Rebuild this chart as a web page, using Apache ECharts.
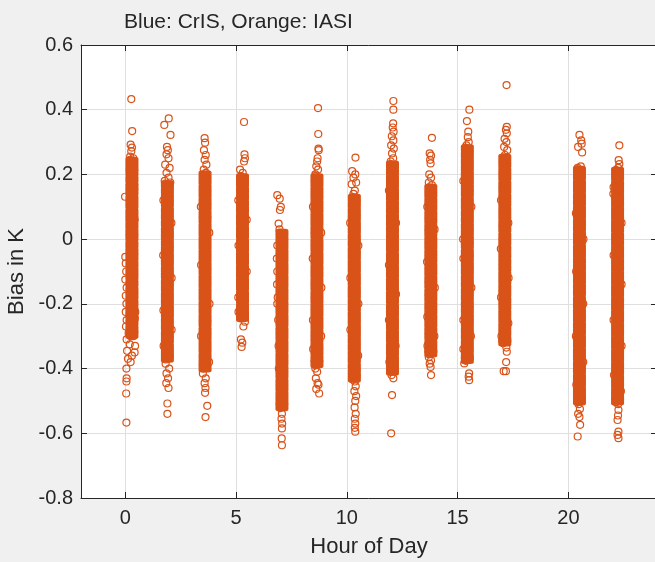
<!DOCTYPE html>
<html>
<head>
<meta charset="utf-8">
<script src="https://cdn.jsdelivr.net/npm/echarts@6/dist/echarts.min.js"></script>
<style>
html,body{margin:0;padding:0;background:#f0f0f0;}
#chart{width:655px;height:562px;}
</style>
</head>
<body>
<div id="chart"></div>
<script>
// centre hour of every overpass cluster
var passHours = [0.30, 1.90, 3.60, 5.29, 7.07, 8.65, 10.34, 12.06, 13.79, 15.44, 17.13, 20.50, 22.22];

// dense (overplotted) part of each cluster, bias in K
var coreBias = [
    [0.241,0.222,0.205,0.184,0.163,0.146,0.124,0.105,0.083,0.064,0.043,0.022,0.004,-0.017,-0.038,-0.056,-0.077,-0.098,-0.116,-0.137,-0.158,-0.176,-0.197,-0.218,-0.236,-0.257,-0.278,-0.295],
    [0.168,0.149,0.128,0.109,0.088,0.069,0.048,0.027,0.008,-0.013,-0.032,-0.053,-0.072,-0.093,-0.112,-0.133,-0.152,-0.173,-0.192,-0.213,-0.232,-0.253,-0.272,-0.293,-0.312,-0.333,-0.352,-0.368],
    [0.198,0.179,0.158,0.139,0.118,0.099,0.078,0.059,0.038,0.019,-0.002,-0.021,-0.042,-0.061,-0.082,-0.101,-0.122,-0.141,-0.162,-0.181,-0.202,-0.221,-0.242,-0.261,-0.282,-0.301,-0.322,-0.341,-0.362,-0.381,-0.398],
    [0.190,0.171,0.150,0.131,0.110,0.091,0.070,0.051,0.030,0.011,-0.010,-0.029,-0.050,-0.069,-0.090,-0.109,-0.130,-0.149,-0.170,-0.189,-0.210,-0.229,-0.242],
    [0.018,-0.002,-0.021,-0.042,-0.061,-0.082,-0.101,-0.122,-0.141,-0.162,-0.181,-0.202,-0.221,-0.242,-0.261,-0.282,-0.301,-0.322,-0.341,-0.362,-0.381,-0.402,-0.421,-0.442,-0.461,-0.482,-0.501,-0.518],
    [0.190,0.171,0.150,0.131,0.110,0.091,0.070,0.051,0.030,0.011,-0.010,-0.029,-0.050,-0.069,-0.090,-0.109,-0.130,-0.149,-0.170,-0.189,-0.210,-0.229,-0.250,-0.269,-0.290,-0.309,-0.330,-0.349,-0.370,-0.385],
    [0.126,0.107,0.086,0.067,0.046,0.027,0.006,-0.013,-0.034,-0.053,-0.074,-0.093,-0.114,-0.133,-0.154,-0.173,-0.194,-0.213,-0.234,-0.253,-0.274,-0.293,-0.314,-0.333,-0.354,-0.373,-0.394,-0.413,-0.430],
    [0.229,0.210,0.189,0.170,0.149,0.130,0.109,0.090,0.069,0.050,0.029,0.010,-0.011,-0.030,-0.051,-0.070,-0.091,-0.110,-0.131,-0.150,-0.171,-0.190,-0.211,-0.230,-0.251,-0.270,-0.291,-0.310,-0.331,-0.350,-0.371,-0.390,-0.408],
    [0.157,0.138,0.117,0.098,0.077,0.058,0.037,0.018,-0.003,-0.022,-0.043,-0.062,-0.083,-0.102,-0.123,-0.142,-0.163,-0.182,-0.203,-0.222,-0.243,-0.262,-0.283,-0.302,-0.323,-0.342,-0.352],
    [0.279,0.260,0.239,0.220,0.199,0.180,0.159,0.140,0.119,0.100,0.079,0.060,0.039,0.020,-0.001,-0.020,-0.041,-0.060,-0.081,-0.100,-0.121,-0.140,-0.161,-0.180,-0.201,-0.220,-0.241,-0.260,-0.281,-0.300,-0.321,-0.340,-0.361,-0.372],
    [0.250,0.231,0.210,0.191,0.170,0.151,0.130,0.111,0.090,0.071,0.050,0.031,0.010,-0.009,-0.030,-0.049,-0.070,-0.089,-0.110,-0.129,-0.150,-0.169,-0.190,-0.209,-0.230,-0.249,-0.270,-0.289,-0.310,-0.318],
    [0.213,0.194,0.173,0.154,0.133,0.114,0.093,0.074,0.053,0.034,0.013,-0.006,-0.027,-0.046,-0.067,-0.086,-0.107,-0.126,-0.147,-0.166,-0.187,-0.206,-0.227,-0.246,-0.267,-0.286,-0.307,-0.326,-0.347,-0.366,-0.387,-0.406,-0.427,-0.446,-0.467,-0.486,-0.500],
    [0.210,0.191,0.170,0.151,0.130,0.111,0.090,0.071,0.050,0.031,0.010,-0.009,-0.030,-0.049,-0.070,-0.089,-0.110,-0.129,-0.150,-0.169,-0.190,-0.209,-0.230,-0.249,-0.270,-0.289,-0.310,-0.329,-0.350,-0.369,-0.390,-0.409,-0.430,-0.449,-0.470,-0.489,-0.500]
];

// single circles around / outside the dense part: [hour, bias]
var loosePoints = [
    // ~0 h
    [0.27,0.433],[0.31,0.334],[0.24,0.292],[0.30,0.283],[0.27,0.272],[0.22,0.255],[0.36,0.250],[0.40,0.170],[-0.01,0.131],[0.42,0.060],
    [0.00,-0.055],[0.02,-0.075],[0.04,-0.100],[0.00,-0.125],[0.06,-0.150],[0.02,-0.175],[0.05,-0.200],[0.02,-0.225],[0.45,-0.225],[0.43,-0.245],
    [0.06,-0.250],[0.03,-0.270],[0.15,-0.290],[0.36,-0.300],[0.06,-0.310],[0.44,-0.330],[0.42,-0.350],[0.20,-0.325],[0.08,-0.345],[0.30,-0.360],
    [0.12,-0.370],[0.24,-0.380],[0.05,-0.400],[0.06,-0.430],[0.05,-0.440],[0.04,-0.477],[0.05,-0.567],
    [0.22,0.245],[0.38,0.235],[0.24,-0.300],[0.38,-0.290],
    // ~2 h
    [1.96,0.373],[1.76,0.353],[2.04,0.322],[1.88,0.285],[1.92,0.275],[1.86,0.262],[1.95,0.250],[1.80,0.230],[2.00,0.220],[1.86,0.205],
    [1.95,0.190],[1.78,0.180],[2.03,0.175],[1.72,0.120],[2.08,0.050],[1.71,-0.050],[2.09,-0.120],[1.72,-0.220],[2.09,-0.280],[1.73,-0.330],
    [1.82,-0.385],[1.98,-0.400],[1.86,-0.415],[1.93,-0.430],[1.85,-0.445],[1.95,-0.460],[1.90,-0.508],[1.90,-0.540],
    [1.82,0.172],[1.99,0.160],[1.83,-0.372],[1.98,-0.365],
    // ~3.6 h
    [3.58,0.312],[3.60,0.298],[3.55,0.275],[3.63,0.260],[3.58,0.245],[3.66,0.230],[3.54,0.215],[3.64,0.205],
    [3.41,0.100],[3.79,0.020],[3.42,-0.080],[3.80,-0.200],[3.42,-0.300],[3.78,-0.380],
    [3.50,-0.415],[3.63,-0.430],[3.58,-0.445],[3.62,-0.460],[3.60,-0.475],[3.70,-0.515],[3.62,-0.550],
    [3.52,0.200],[3.69,0.190],[3.53,-0.400],[3.68,-0.395],
    // ~5.3 h
    [5.36,0.362],[5.38,0.262],[5.40,0.250],[5.36,0.240],[5.18,0.215],[5.30,0.205],[5.22,0.195],
    [5.10,0.120],[5.48,0.060],[5.11,-0.020],[5.48,-0.100],[5.10,-0.180],[5.11,-0.225],
    [5.40,-0.255],[5.33,-0.270],[5.22,-0.310],[5.28,-0.320],[5.25,-0.333],
    [5.21,0.192],[5.38,0.185],[5.21,-0.245],[5.37,-0.240],
    // ~7 h
    [6.86,0.136],[6.97,0.125],[7.02,0.100],[6.98,0.090],[6.92,0.048],[6.96,0.030],
    [6.86,-0.020],[6.84,-0.060],[6.86,-0.100],[6.85,-0.140],[6.88,-0.180],[6.86,-0.200],[6.90,-0.250],[6.92,-0.330],[6.93,-0.400],
    [7.07,-0.540],[7.05,-0.555],[7.08,-0.570],[7.07,-0.585],[7.06,-0.616],[7.07,-0.637],
    [6.99,0.020],[7.15,0.012],[7.00,-0.522],[7.14,-0.515],
    // ~8.6 h
    [8.70,0.405],[8.71,0.325],[8.72,0.280],[8.73,0.275],[8.68,0.250],[8.66,0.240],[8.62,0.225],[8.70,0.215],[8.58,0.200],
    [8.47,0.100],[8.84,0.020],[8.46,-0.060],[8.85,-0.150],[8.47,-0.250],[8.84,-0.300],[8.48,-0.340],
    [8.58,-0.400],[8.66,-0.410],[8.60,-0.430],[8.68,-0.445],[8.72,-0.450],[8.62,-0.463],[8.75,-0.477],
    [8.57,0.195],[8.74,0.185],[8.58,-0.390],[8.73,-0.382],
    // ~10.3 h
    [10.39,0.252],[10.24,0.210],[10.38,0.200],[10.30,0.190],[10.42,0.175],[10.22,0.170],[10.36,0.150],[10.30,0.140],
    [10.15,0.050],[10.52,-0.020],[10.16,-0.120],[10.52,-0.200],[10.16,-0.280],[10.51,-0.360],
    [10.36,-0.440],[10.40,-0.455],[10.34,-0.470],[10.42,-0.485],[10.38,-0.500],[10.35,-0.520],[10.40,-0.540],[10.36,-0.555],[10.38,-0.570],[10.36,-0.583],[10.38,-0.595],
    [10.26,0.130],[10.42,0.120],[10.27,-0.434],[10.42,-0.428],
    // ~12 h
    [12.10,0.427],[12.10,0.400],[12.09,0.358],[12.07,0.345],[12.11,0.332],[12.03,0.318],[12.10,0.305],[12.00,0.290],[12.12,0.280],[12.04,0.265],[12.09,0.250],[11.98,0.240],
    [11.90,0.150],[12.22,0.050],[11.90,-0.080],[12.22,-0.170],[11.90,-0.250],[12.20,-0.330],[11.92,-0.380],
    [12.02,-0.420],[12.10,-0.430],[12.04,-0.482],[12.00,-0.600],
    [11.98,0.232],[12.14,0.224],[11.99,-0.410],[12.13,-0.405],
    // ~13.8 h
    [13.84,0.313],[13.74,0.265],[13.80,0.258],[13.76,0.245],[13.78,0.234],[13.72,0.200],[13.80,0.190],[13.70,0.175],[13.84,0.167],
    [13.63,0.100],[13.96,0.030],[13.62,-0.070],[13.97,-0.150],[13.63,-0.240],[13.95,-0.300],[13.64,-0.330],
    [13.70,-0.365],[13.80,-0.375],[13.74,-0.385],[13.78,-0.395],[13.80,-0.420],
    [13.71,0.160],[13.87,0.150],[13.72,-0.356],[13.87,-0.350],
    // ~15.4 h
    [15.53,0.400],[15.42,0.365],[15.48,0.332],[15.46,0.315],[15.50,0.300],[15.40,0.290],
    [15.26,0.180],[15.62,0.100],[15.25,0.000],[15.26,-0.060],[15.62,-0.150],[15.26,-0.250],[15.60,-0.300],[15.26,-0.340],
    [15.30,-0.384],[15.40,-0.370],[15.52,-0.415],[15.50,-0.425],[15.52,-0.436],
    [15.36,0.283],[15.52,0.272],[15.37,-0.376],[15.52,-0.370],
    // ~17.1 h
    [17.21,0.476],[17.22,0.347],[17.18,0.338],[17.22,0.327],[17.12,0.310],[17.20,0.300],[17.10,0.285],[17.24,0.275],[17.14,0.260],
    [16.96,0.120],[17.29,0.050],[16.95,-0.030],[17.30,-0.120],[16.96,-0.180],[17.29,-0.260],[16.98,-0.300],
    [17.20,-0.335],[17.22,-0.348],[17.19,-0.380],[17.08,-0.408],[17.18,-0.408],
    [17.05,0.253],[17.21,0.245],[17.06,-0.322],[17.21,-0.316],
    // ~20.5 h
    [20.50,0.322],[20.58,0.305],[20.60,0.295],[20.44,0.285],[20.62,0.268],[20.56,0.225],[20.42,0.220],
    [20.34,0.080],[20.68,0.000],[20.35,-0.100],[20.67,-0.200],[20.34,-0.300],[20.67,-0.380],[20.36,-0.450],
    [20.46,-0.510],[20.52,-0.525],[20.44,-0.540],[20.50,-0.550],[20.53,-0.574],[20.42,-0.610],
    [20.42,0.216],[20.58,0.208],[20.43,-0.504],[20.58,-0.498],
    // ~22.2 h
    [22.30,0.290],[22.27,0.244],[22.30,0.232],[22.25,0.220],
    [22.04,0.160],[22.03,0.140],[22.40,0.050],[22.04,-0.050],[22.40,-0.140],[22.04,-0.250],[22.40,-0.330],[22.06,-0.420],[22.37,-0.470],
    [22.24,-0.510],[22.26,-0.528],[22.24,-0.545],[22.22,-0.559],[22.26,-0.595],[22.22,-0.605],[22.26,-0.615],
    [22.14,0.213],[22.30,0.205],[22.15,-0.504],[22.30,-0.497]
];

var xTicks = [0, 5, 10, 15, 20];
var xRange = [-2, 24];
var yRange = [-0.8, 0.6];
var yStep = 0.2;

var orange = '#D95319';
var ink = '#262626';
var font = 'Liberation Sans, Arial, Helvetica, sans-serif';

var coreData = [];
passHours.forEach(function (h, i) {
    coreBias[i].forEach(function (b) {
        coreData.push([h, b]);
    });
});

var chart = echarts.init(document.getElementById('chart'));

var option = {
    animation: false,
    backgroundColor: '#f0f0f0',
    title: {
        text: 'Blue: CrIS, Orange: IASI',
        left: 119,
        top: 7,
        textStyle: {color: ink, fontSize: 21, fontWeight: 'normal', fontFamily: font}
    },
    grid: {
        left: 81, top: 45, right: -2, bottom: 64,
        outerBoundsMode: 'none',
        containLabel: false,
        show: true, backgroundColor: '#ffffff', borderWidth: 0
    },
    xAxis: [
        {
            type: 'value', position: 'bottom', min: xRange[0], max: xRange[1],
            name: 'Hour of Day', nameLocation: 'middle', nameGap: 38,
            nameTextStyle: {color: ink, fontSize: 22, fontFamily: font},
            axisLine: {show: true, onZero: false, lineStyle: {color: ink, width: 1}},
            axisTick: {show: true, inside: true, length: 6, customValues: xTicks, lineStyle: {color: ink}},
            axisLabel: {show: true, customValues: xTicks, margin: 10, color: ink, fontSize: 20, fontFamily: font},
            splitLine: {show: true, lineStyle: {color: '#dfdfdf', width: 1}}
        },
        {
            type: 'value', position: 'top', min: xRange[0], max: xRange[1],
            axisLine: {show: true, onZero: false, lineStyle: {color: ink, width: 1}},
            axisTick: {show: true, inside: true, length: 6, customValues: xTicks, lineStyle: {color: ink}},
            axisLabel: {show: false},
            splitLine: {show: false}
        }
    ],
    yAxis: [
        {
            type: 'value', position: 'left', min: yRange[0], max: yRange[1], interval: yStep,
            name: 'Bias in K', nameLocation: 'middle', nameGap: 50,
            nameTextStyle: {color: ink, fontSize: 22, fontFamily: font},
            axisLine: {show: true, onZero: false, lineStyle: {color: ink, width: 1}},
            axisTick: {show: true, inside: true, length: 6, lineStyle: {color: ink}},
            axisLabel: {show: true, margin: 8, color: ink, fontSize: 20, fontFamily: font},
            splitLine: {show: true, lineStyle: {color: '#dfdfdf', width: 1}}
        },
        {
            type: 'value', position: 'right', min: yRange[0], max: yRange[1], interval: yStep,
            axisLine: {show: true, onZero: false, lineStyle: {color: ink, width: 1}},
            axisTick: {show: true, inside: true, length: 6, lineStyle: {color: ink}},
            axisLabel: {show: false},
            splitLine: {show: false}
        }
    ],
    series: [
        {
            // overplotted core of each cluster
            type: 'scatter',
            data: coreData,
            symbol: 'roundRect',
            symbolSize: [13, 9],
            itemStyle: {color: orange, opacity: 1},
            silent: true,
            z: 2
        },
        {
            type: 'scatter',
            data: loosePoints,
            symbol: 'circle',
            symbolSize: 7,
            itemStyle: {color: 'rgba(0,0,0,0)', borderColor: orange, borderWidth: 1.2, opacity: 1},
            silent: true,
            z: 3
        }
    ]
};

chart.setOption(option);
</script>
</body>
</html>
